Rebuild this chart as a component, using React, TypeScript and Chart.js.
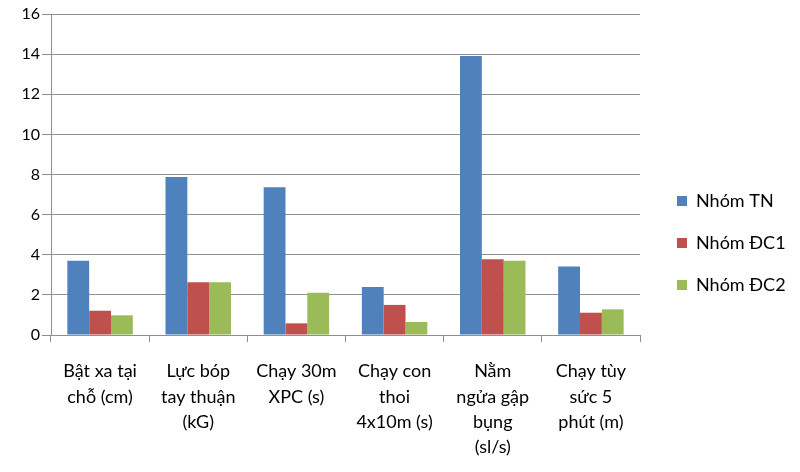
import React, { useEffect, useRef } from "react";
import { Chart, registerables } from "chart.js";

Chart.register(...registerables);

const categories: string[][] = [
  ["Bật xa tại", "chỗ (cm)"],
  ["Lực bóp", "tay thuận", "(kG)"],
  ["Chạy 30m", "XPC (s)"],
  ["Chạy con", "thoi", "4x10m (s)"],
  ["Nằm", "ngửa gập", "bụng", "(sl/s)"],
  ["Chạy tùy", "sức 5", "phút (m)"],
];
const seriesNames = ["Nhóm TN", "Nhóm ĐC1", "Nhóm ĐC2"];
const nhomTN = [3.7, 7.88, 7.36, 2.39, 13.91, 3.42];
const nhomDC1 = [1.21, 2.63, 0.58, 1.5, 3.77, 1.11];
const nhomDC2 = [0.98, 2.63, 2.11, 0.65, 3.7, 1.28];
const colors = ["#4F81BD", "#C0504D", "#9BBB59"];

const FONT = "Lato, 'Noto Sans', sans-serif";
const GRID = "#8f8f8f";

export default function App() {
  const ref = useRef<HTMLCanvasElement | null>(null);
  useEffect(() => {
    if (!ref.current) return;
    const legendPatch = {
      id: "legendPatch",
      beforeLayout(chart: any) {
        const lg = chart.legend;
        if (lg && !lg.__patched) {
          const orig = lg.fit.bind(lg);
          lg.fit = function () {
            orig();
            this.width = 160;
          };
          lg.__patched = true;
        }
      },
      afterLayout(chart: any) {
        const lg = chart.legend;
        if (lg) {
          lg.left += 13;
          lg.right += 13;
        }
      },
    };
    const chart = new Chart(ref.current, {
      type: "bar",
      data: {
        labels: categories,
        datasets: [nhomTN, nhomDC1, nhomDC2].map((d, i) => ({
          label: seriesNames[i],
          data: d,
          backgroundColor: colors[i],
          borderWidth: 0,
          barPercentage: 1,
          categoryPercentage: 0.667,
        })),
      },
      options: {
        responsive: false,
        animation: false,
        layout: { padding: { top: 14, left: 0, right: 0, bottom: 0 } },
        plugins: {
          tooltip: { enabled: false },
          legend: {
            position: "right",
            labels: {
              boxWidth: 10,
              boxHeight: 10,
              padding: 24,
              color: "#000",
              font: { family: FONT, size: 18 },
            },
          },
        },
        scales: {
          x: {
            grid: {
              offset: true,
              drawOnChartArea: false,
              drawTicks: true,
              tickLength: 7,
              color: GRID,
            },
            border: { color: GRID },
            ticks: {
              color: "#000",
              font: { family: FONT, size: 18, lineHeight: 1.4 },
              maxRotation: 0,
              autoSkip: false,
              padding: 17,
            },
            afterFit(scale: any) {
              scale.height = 137;
            },
          },
          y: {
            min: 0,
            max: 16,
            grid: { color: GRID, tickLength: 9 },
            border: { color: GRID },
            ticks: {
              stepSize: 2,
              color: "#000",
              padding: 2,
              font: { family: FONT, size: 16 },
            },
            afterFit(scale: any) {
              scale.width = 51;
            },
          },
        },
      },
      plugins: [legendPatch],
    });
    return () => chart.destroy();
  }, []);
  return (
    <div style={{ position: "absolute", left: 0, top: 0, width: 800, height: 472, background: "#fff" }}>
      <canvas ref={ref} width={800} height={472} style={{ width: 800, height: 472 }} />
    </div>
  );
}
